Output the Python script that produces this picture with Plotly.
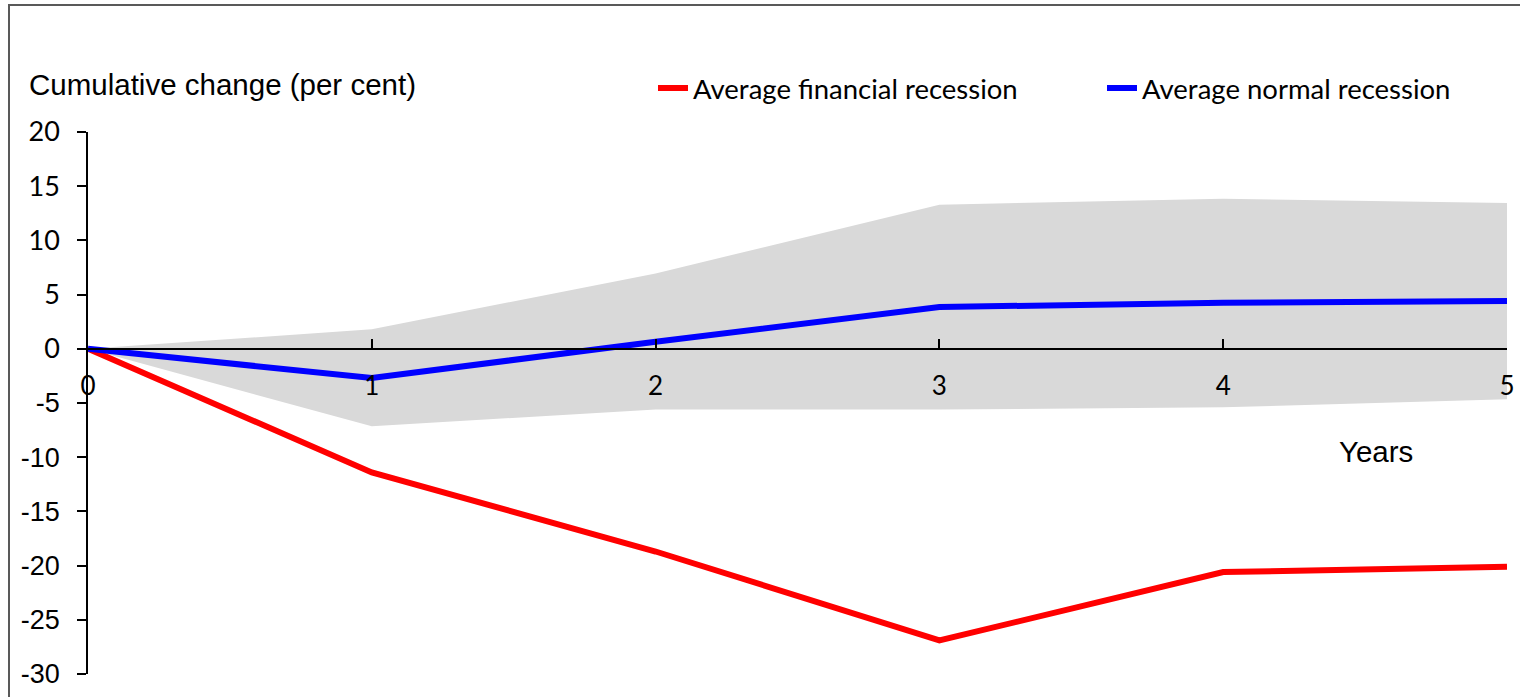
import plotly.graph_objects as go

years = [0, 1, 2, 3, 4, 5]
financial = [0, -11.4, -18.7, -26.9, -20.6, -20.1]
normal = [0, -2.7, 0.65, 3.85, 4.25, 4.4]
band_upper = [0, 1.8, 6.95, 13.3, 13.85, 13.45]
band_lower = [0, -7.15, -5.6, -5.6, -5.4, -4.65]
y_ticks = [20, 15, 10, 5, 0, -5, -10, -15, -20, -25, -30]
x_ticks = [0, 1, 2, 3, 4, 5]

CAL = "Lato, 'Noto Sans', sans-serif"
ARI = "'Liberation Sans', Arial, sans-serif"

W, H = 1520, 697
L, R, T, B = 88, 1507, 132, 674
PW, PH = R - L, B - T

def px(xp):
    return (xp - L) / PW

def py(yp):
    return (B - yp) / PH

def ylab(v):
    if v < 0:
        return f"<span style=\"font-family:{ARI}\">{v}</span>"
    return str(v)

fig = go.Figure()
fig.add_trace(go.Scatter(x=years, y=band_upper, mode="lines", line=dict(width=0, color="#d9d9d9"),
                         showlegend=False, hoverinfo="skip"))
fig.add_trace(go.Scatter(x=years, y=band_lower, mode="lines", line=dict(width=0, color="#d9d9d9"),
                         fill="tonexty", fillcolor="#d9d9d9", showlegend=False, hoverinfo="skip"))
fig.add_trace(go.Scatter(x=years, y=financial, mode="lines", name="Average financial recession",
                         line=dict(color="#ff0000", width=6), legend="legend"))
fig.add_trace(go.Scatter(x=years, y=normal, mode="lines", name="Average normal recession",
                         line=dict(color="#0000ff", width=6), legend="legend2"))

legend_common = dict(font=dict(family=CAL, size=27.5, color="#000000"), bgcolor="rgba(0,0,0,0)",
                     xref="container", yref="container", xanchor="left", yanchor="middle",
                     itemwidth=30)
fig.update_layout(
    width=W, height=H,
    paper_bgcolor="#ffffff", plot_bgcolor="#ffffff",
    margin=dict(l=L, r=W - R, t=T, b=H - B, autoexpand=False),
    legend=dict(x=653 / W, y=1 - 88 / H, **legend_common),
    legend2=dict(x=1102 / W, y=1 - 88 / H, **legend_common),
    xaxis=dict(range=[0, 5], tickvals=x_ticks, ticktext=[str(v) for v in x_ticks],
               showgrid=False, zeroline=False, showline=True, linecolor="#000000", linewidth=1.5,
               ticks="inside", ticklen=9, tickwidth=1.5, tickcolor="#000000",
               anchor="free", position=0.6, side="bottom", ticklabelstandoff=14,
               automargin=False, ticklabeloverflow="allow",
               tickfont=dict(family=CAL, size=26, color="#000000")),
    yaxis=dict(range=[-30, 20], tickvals=y_ticks, ticktext=[ylab(v) for v in y_ticks],
               showgrid=False, zeroline=False, showline=True, linecolor="#000000", linewidth=1.5,
               ticks="outside", ticklen=9, tickwidth=1.5, tickcolor="#000000",
               ticklabelstandoff=12, automargin=False, ticklabeloverflow="allow",
               tickfont=dict(family=CAL, size=27, color="#000000")),
    annotations=[
        dict(text="Cumulative change (per cent)", xref="paper", yref="paper",
             x=px(27), y=py(84), xanchor="left", yanchor="middle",
             showarrow=False, font=dict(family=ARI, size=29.5, color="#000000")),
        dict(text="Years", xref="paper", yref="paper",
             x=px(1337), y=py(451), xanchor="left", yanchor="middle",
             showarrow=False, font=dict(family=ARI, size=29.5, color="#000000")),
    ],
    shapes=[
        dict(type="line", xref="paper", yref="paper",
             x0=px(8), x1=px(W + 40), y0=py(5), y1=py(5),
             line=dict(color="#595959", width=2), layer="above"),
        dict(type="line", xref="paper", yref="paper",
             x0=px(9), x1=px(9), y0=py(4), y1=py(H + 40),
             line=dict(color="#595959", width=2), layer="above"),
    ],
)

fig.write_html(
    "out.html",
    config={"displayModeBar": False},
    post_script="document.documentElement.style.overflow='hidden';"
                "document.body.style.margin='0';document.body.style.overflow='hidden';",
)
